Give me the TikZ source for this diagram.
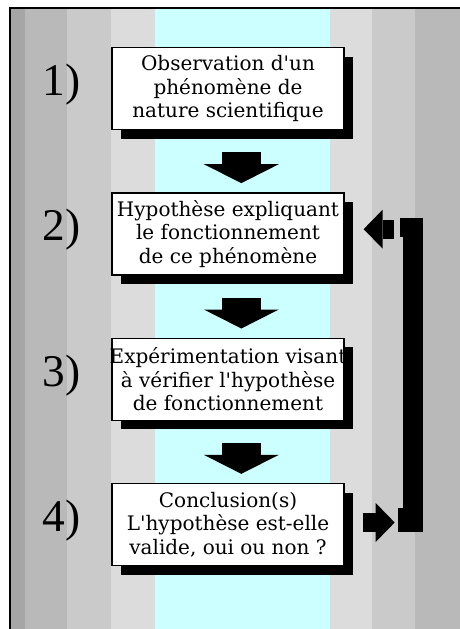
\documentclass[tikz,border=0pt]{standalone}
\usepackage{fontspec}
\setmainfont{DejaVu Serif}[Ligatures=TeXOff]
\newfontfamily\numfont{Liberation Serif}
\usetikzlibrary{positioning,arrows.meta,shadows,calc}
\definecolor{stripedark}{RGB}{166,166,166}
\definecolor{stripemid}{RGB}{185,185,185}
\definecolor{stripelight}{RGB}{202,202,202}
\definecolor{stripepale}{RGB}{220,220,220}
\definecolor{bandcyan}{RGB}{204,255,255}
\tikzset{
  stepbox/.style={draw=black,line width=1pt,fill=white,
                  minimum width=174pt,minimum height=61.5pt,
                  inner xsep=-3pt,inner ysep=0pt,align=center,
                  font=\fontsize{15}{17.5}\selectfont,
                  drop shadow={shadow xshift=6.75pt,shadow yshift=-6.75pt,fill=black,opacity=1}},
  steplbl/.style={inner sep=0pt,font=\numfont\fontsize{34}{34}\selectfont},
  downarr/.style={line width=29.25pt,-{Triangle[length=14.25pt,width=56.25pt,line width=0pt]}},
  backarr/.style={line width=14.25pt,-{Triangle[length=14.25pt,width=29.25pt,line width=0pt]}},
  fbbar/.style={line width=15pt},
}
\begin{document}
\begin{tikzpicture}[x=0.75pt,y=-0.75pt,node distance=46.5pt]
        \useasboundingbox (0,0) rectangle (460,629);
        \foreach \xa/\xb/\col in {11/25/stripedark,25/67/stripemid,67/111/stripelight,111/155/stripepale,
                                  155/330/bandcyan,330/372/stripepale,372/415/stripelight,415/460/stripemid}
          \fill[\col] (\xa,9) rectangle (\xb,629);
        \draw[line width=1.5pt] (10,629) -- (10,8) -- (460,8);
        \node[stepbox] (b1) at (228,88.5) {Observation d'un\\phénomène de\\nature scientifique};
        \node[stepbox,below=of b1] (b2) {Hypothèse expliquant\\le fonctionnement\\de ce phénomène};
        \node[stepbox,below=of b2] (b3) {Expérimentation visant\\à vérifier l'hypothèse\\de fonctionnement};
        \node[stepbox,below=of b3] (b4) {Conclusion(s)\\L'hypothèse est-elle\\valide, oui ou non ?};
        \foreach \b/\t in {b1/1),b2/2),b3/3),b4/4)}
          \node[steplbl,left=23pt of \b,yshift=3pt] (n\b) {\t};
        \foreach \a/\b in {b1/b2,b2/b3,b3/b4}
          \draw[downarr] ([xshift=10pt,yshift=-16.5pt]\a.south) -- ([xshift=10pt,yshift=6.75pt]\b.north);
        \coordinate (fbtop) at (413,218);
        \coordinate (fbbot) at (413,532);
        \draw[backarr] ([xshift=13.5pt,yshift=1.5pt]b4.east) -- ([xshift=37.5pt,yshift=1.5pt]b4.east);
        \draw[fbbar] (fbbot) -- (fbtop);
        \fill ($(fbtop)+(-13,0)$) rectangle ($(fbtop)+(10,19)$);
        \fill ($(fbbot)+(-15,0)$) rectangle ($(fbbot)+(10,-24)$);
        \draw[backarr] ([xshift=36.75pt,yshift=3.5pt]b2.east) -- ([xshift=14.25pt,yshift=3.5pt]b2.east);
      \end{tikzpicture}
\end{document}
